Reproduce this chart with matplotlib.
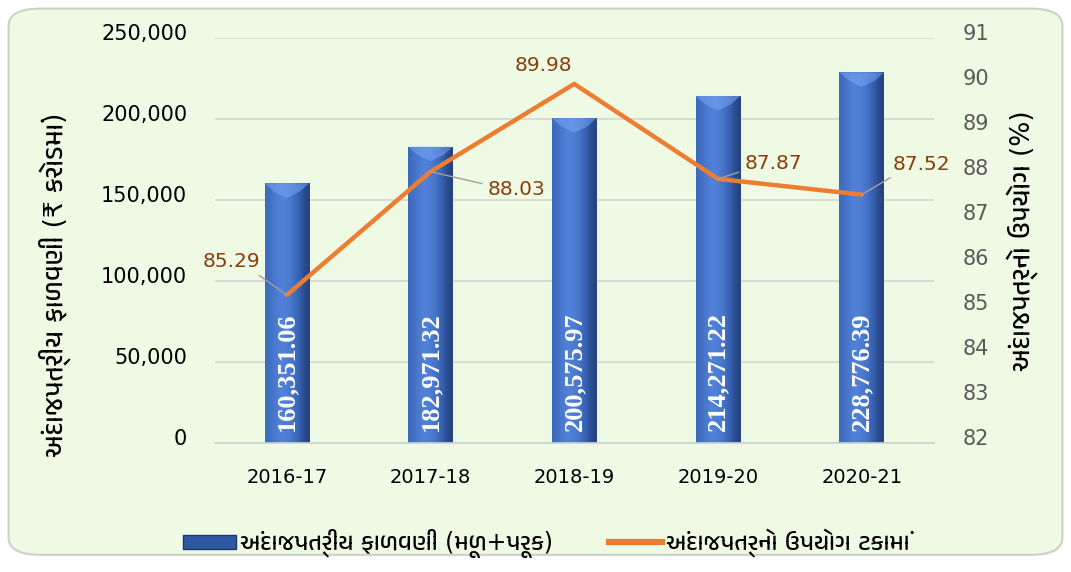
import numpy as np
import matplotlib.pyplot as plt
import matplotlib.transforms as mtransforms
from matplotlib import font_manager
from matplotlib.patches import FancyBboxPatch, Rectangle, Polygon
from matplotlib.lines import Line2D

# budget allocation (Rs crore) and utilisation (%) per year
years = ['2016-17', '2017-18', '2018-19', '2019-20', '2020-21']
allocation = [160351.06, 182971.32, 200575.97, 214271.22, 228776.39]
utilisation = [85.29, 88.03, 89.98, 87.87, 87.52]

left_label = 'અંદાજપત્રીય ફાળવણી (₹ કરોડમાં)'
right_label = 'અંદાજપત્રનો ઉપયોગ (%)'
bar_legend = 'અંદાજપત્રીય ફાળવણી (મૂળ+પૂરક)'
line_legend = 'અંદાજપત્રનો ઉપયોગ ટકામાં'

# latin text in DejaVu, gujarati glyphs fall back to a gujarati font
guj = [f.name for f in font_manager.fontManager.ttflist if 'Gujarati' in f.name]
families = ['DejaVu Sans'] + sorted(set(guj))
plt.rcParams['font.family'] = families

bg = '#eefae4'
orange = '#ed7d31'
brown = '#8a3e0c'

fig = plt.figure(figsize=(10.71, 5.72), dpi=100)
fig.patch.set_facecolor('white')
panel = FancyBboxPatch((0.008, 0.03), 0.984, 0.955, boxstyle='round,pad=0,rounding_size=0.03',
                       transform=fig.transFigure, facecolor=bg, edgecolor='#c9d3c2',
                       linewidth=1.5, zorder=-5)
fig.patches.append(panel)

ax = fig.add_axes([0.2007, 0.2255, 0.671, 0.708])
ax.set_facecolor('none')
x = np.arange(len(years))

# bars with a horizontal shading to give a rounded look
bars = ax.bar(x, allocation, width=0.31, color='#3a66b8', zorder=2)
shade = np.array([[0.75, 0.9, 1.0, 0.95, 0.82, 0.62, 0.42]])
cmap = plt.matplotlib.colors.LinearSegmentedColormap.from_list(
    'cyl', ['#1c3466', '#3560b0', '#5283da'])
for b in bars:
    x0, w, h = b.get_x(), b.get_width(), b.get_height()
    im = ax.imshow(shade, cmap=cmap, vmin=0.3, vmax=1.0, aspect='auto',
                   extent=(x0, x0 + w, 0, h), zorder=2.1, interpolation='bicubic')
    im.set_clip_path(b)
    # light bevel at the top of each bar
    bevel = [(x0, h), (x0 + w, h), (x0 + 0.8 * w, h - 5000),
             (x0 + 0.5 * w, h - 9000), (x0 + 0.2 * w, h - 5000)]
    ax.add_patch(Polygon(bevel, closed=True, facecolor='#78a6f5', alpha=0.55,
                         edgecolor='none', zorder=2.2))

for xi, v in zip(x, allocation):
    ax.text(xi, 7500, f'{v:,.2f}', rotation=90, ha='center', va='bottom',
            color='white', fontsize=19, fontweight='bold',
            family='Liberation Serif', zorder=4)

ax.set_xlim(-0.5, len(years) - 0.5)
ax.set_ylim(0, 250000)
ax.set_yticks(np.arange(0, 250001, 50000))
ax.yaxis.set_major_formatter(plt.FuncFormatter(lambda v, p: f'{v:,.0f}'))
ax.grid(axis='y', color='#d6d6d6', linewidth=1.2, zorder=0)
ax.set_axisbelow(True)
for s in ['top', 'right', 'left']:
    ax.spines[s].set_visible(False)
ax.spines['bottom'].set_color('#d0d0d0')
ax.spines['bottom'].set_linewidth(1.2)
ax.set_xticks(x)
ax.set_xticklabels(years)
ax.tick_params(axis='x', length=0, pad=18, labelsize=14)
ax.tick_params(axis='y', length=0, pad=20, labelsize=15)
ax.set_ylabel(left_label, fontsize=19)
ax.yaxis.set_label_coords(-0.2, 0.39)

ax2 = ax.twinx()
ax2.plot(x, utilisation, color=orange, linewidth=3.2, solid_capstyle='round', zorder=5)
ax2.set_ylim(82, 91)
ax2.set_yticks(np.arange(82, 92, 1))
ax2.tick_params(axis='y', length=0, pad=21, labelsize=15, labelcolor='#595959')
for s in ax2.spines.values():
    s.set_visible(False)
ax2.set_ylabel(right_label, fontsize=19, rotation=90)
ax2.yaxis.set_label_coords(1.102, 0.5)

# tick labels sit a little above their gridlines
lift = mtransforms.ScaledTranslation(0, 0.06, fig.dpi_scale_trans)
for lbl in ax.get_yticklabels() + ax2.get_yticklabels():
    lbl.set_transform(lbl.get_transform() + lift)

# label offsets (points) with grey elbow leader lines
offsets = [(-19, 24, 'right', 0), (41, -13, 'left', 180), (-22, 13, 'center', None),
           (19, 11, 'left', 180), (22, 22, 'left', 180)]
for xi, v, (dx, dy, ha, ang) in zip(x, utilisation, offsets):
    lead = None
    if ang is not None:
        lead = dict(arrowstyle='-', color='#a0a0a0', lw=1, shrinkA=2, shrinkB=0,
                    connectionstyle=f'arc,angleA={ang},armA=8,angleB=0,armB=0,rad=0')
    ax2.annotate(f'{v:.2f}', (xi, v), xytext=(dx, dy), textcoords='offset points',
                 ha=ha, va='center', fontsize=14.5, color=brown,
                 arrowprops=lead, zorder=6)

handles = [Rectangle((0, 0), 1, 1, facecolor='#2f58a3', edgecolor='#1c3466'),
           Line2D([0], [0], color=orange, linewidth=4.5)]
fig.legend(handles, [bar_legend, line_legend], loc='center', bbox_to_anchor=(0.51, 0.05),
           ncol=2, frameon=False, fontsize=17, handlelength=2.25, handleheight=0.55,
           handletextpad=0.15, columnspacing=2.4)

fig.savefig('out.png', dpi=100, facecolor='white')
